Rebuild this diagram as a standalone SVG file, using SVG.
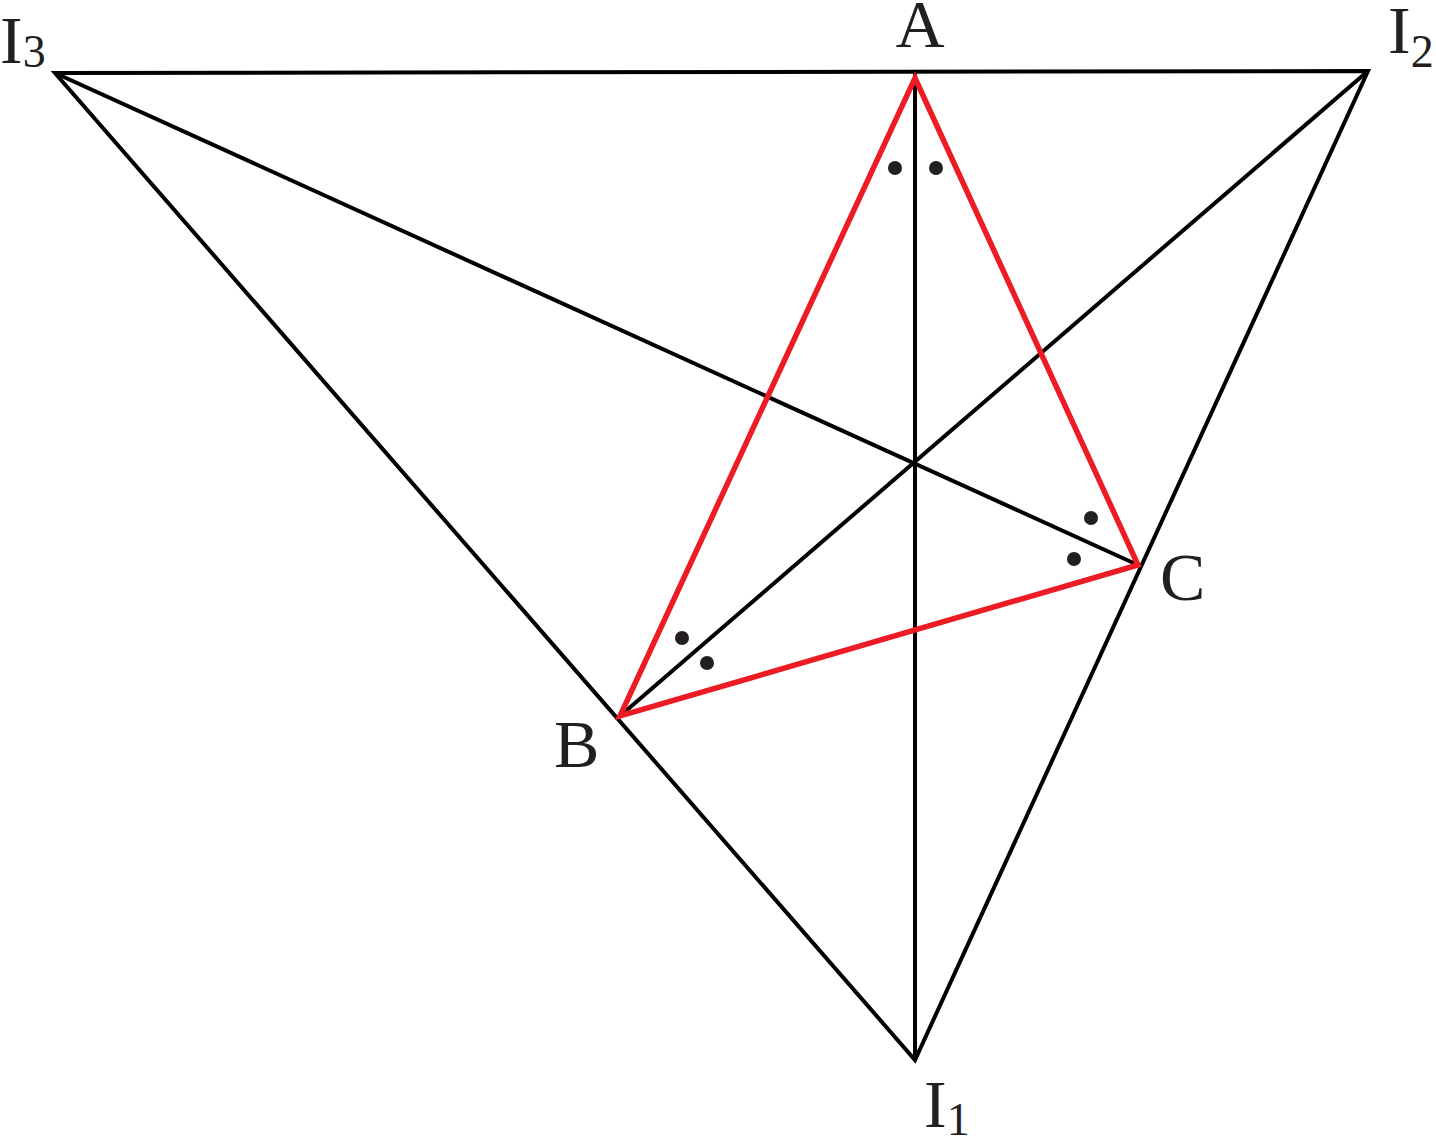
<svg xmlns="http://www.w3.org/2000/svg" width="1436" height="1141" viewBox="0 0 1436 1141">
<style>
.blk{stroke:#000;stroke-width:4;fill:none;stroke-linejoin:miter}
.red{stroke:#ED1C24;stroke-width:5.5;fill:none;stroke-linejoin:miter}
.dot{fill:#231F20}
.lbl{font-family:"Liberation Serif","Times New Roman",serif;font-size:68px;fill:#231F20}
.sub{font-size:46px}
</style>
<rect width="1436" height="1141" fill="#fff"/>
<g id="connectors">
<polygon class="blk" points="55,73 1368,71 915,1060"/>
<line class="blk" x1="915" y1="73" x2="915" y2="1060"/>
<line class="blk" x1="55" y1="73" x2="1138" y2="565"/>
<line class="blk" x1="1368" y1="71" x2="620" y2="716"/>
</g>
<g id="triangle-ABC">
<polygon class="red" points="915,78 1138,565 620,716"/>
</g>
<g id="angle-marks">
<circle class="dot" cx="895" cy="168" r="7"/>
<circle class="dot" cx="936" cy="168" r="7"/>
<circle class="dot" cx="682" cy="638" r="7"/>
<circle class="dot" cx="707" cy="663" r="7"/>
<circle class="dot" cx="1091" cy="518" r="7"/>
<circle class="dot" cx="1074" cy="559" r="7"/>
</g>
<g id="node-A"><text class="lbl" x="920" y="47" text-anchor="middle">A</text></g>
<g id="node-B"><text class="lbl" x="554" y="767">B</text></g>
<g id="node-C"><text class="lbl" x="1160" y="600">C</text></g>
<g id="node-I1"><text class="lbl" x="924" y="1127">I<tspan class="sub" dy="8">1</tspan></text></g>
<g id="node-I2"><text class="lbl" x="1388" y="53">I<tspan class="sub" dy="14">2</tspan></text></g>
<g id="node-I3"><text class="lbl" x="0" y="63">I<tspan class="sub" dy="4">3</tspan></text></g>
</svg>
